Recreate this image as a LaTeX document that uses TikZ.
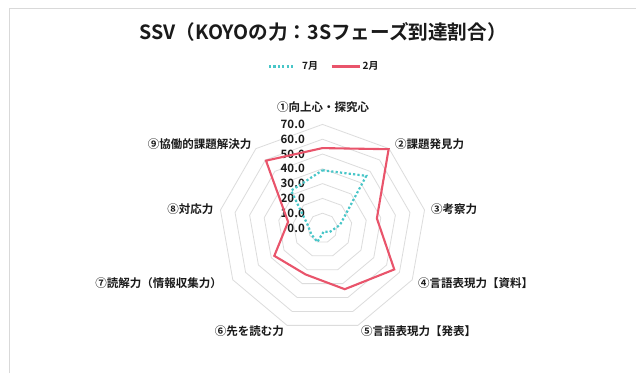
\documentclass[tikz,border=0pt]{standalone}
\usepackage{fontspec}
\setmainfont{Noto Sans CJK JP}[BoldFont={Noto Sans CJK JP Bold}]
\definecolor{redline}{HTML}{E9546B}
\definecolor{tealline}{HTML}{48C6C8}
\definecolor{gridgray}{HTML}{DCDCDC}
\definecolor{framegray}{HTML}{D9D9D9}
\definecolor{txt}{HTML}{1A1A1A}
\tikzset{
  gridpoly/.style={draw=gridgray, line width=0.8pt},
  julyline/.style={draw=tealline, line width=2.2pt, line cap=butt, dash pattern=on 2.2pt off 2.2pt},
  febline/.style={draw=redline, line width=2.1pt, line join=miter},
  cat/.style={inner sep=0pt, font=\bfseries\fontsize{11.5}{12}\selectfont, text=txt},
  axlab/.style={inner sep=0pt, anchor=east, font=\bfseries\fontsize{11.5}{12}\selectfont, text=txt},
  legtxt/.style={inner sep=0pt, anchor=west, font=\bfseries\fontsize{10}{11}\selectfont, text=txt},
  titletxt/.style={inner sep=0pt, font=\bfseries\fontsize{19.6}{22}\selectfont, text=txt}
}
\begin{document}
\begin{tikzpicture}[x=1pt,y=-1pt]
\useasboundingbox (0,0) rectangle (636,373);
\fill[white] (0,0) rectangle (636,373);
\draw[framegray, line width=0.9pt] (9,373) -- (9,8.5) -- (636,8.5);
\def\cx{322.5}
\def\cy{228}
\def\sc{1.48}
% grid nonagons
\foreach \l in {10,20,...,70} {
  \draw[gridpoly] ({\cx},{\cy-\l*\sc})
    \foreach \k in {1,...,8} { -- ({\cx+\l*\sc*cos(90-40*\k)},{\cy-\l*\sc*sin(90-40*\k)}) } -- cycle;
}
% axis labels
\foreach \v [count=\i from 0] in {0.0,10.0,20.0,30.0,40.0,50.0,60.0,70.0} {
  \node[axlab] (ax\i) at (305,{\cy-\i*10*\sc}) {\v};
}
% data points
\foreach \v [count=\k from 0] in {39,46,12,5.5,2.5,10,8.7,10,33} {
  \coordinate (j\k) at ({\cx+\v*\sc*cos(90-40*\k)},{\cy-\v*\sc*sin(90-40*\k)});
}
\foreach \v [count=\k from 0] in {54,69.5,37.3,56,44,33.4,37.6,23.6,59.4} {
  \coordinate (f\k) at ({\cx+\v*\sc*cos(90-40*\k)},{\cy-\v*\sc*sin(90-40*\k)});
}
\draw[julyline] (j0) -- (j1) -- (j2) -- (j3) -- (j4) -- (j5) -- (j6) -- (j7) -- (j8) -- cycle;
\draw[febline] (f0) -- (f1) -- (f2) -- (f3) -- (f4) -- (f5) -- (f6) -- (f7) -- (f8) -- cycle;
% category labels
\node[cat] (c1) at (323,107) {①向上心・探究心};
\node[cat, anchor=west] (c2) at (395,144) {②課題発見力};
\node[cat, anchor=west] (c3) at (431,209) {③考察力};
\node[cat, anchor=west] (c4) at (418,283) {④言語表現力【資料】};
\node[cat, anchor=west] (c5) at (361,331) {⑤言語表現力【発表】};
\node[cat, anchor=east] (c6) at (284,331) {⑥先を読む力};
\node[cat, anchor=east] (c7) at (222,283) {⑦読解力（情報収集力）};
\node[cat, anchor=east] (c8) at (213.5,209) {⑧対応力};
\node[cat, anchor=east] (c9) at (251.5,144) {⑨協働的課題解決力};
% title
\node[titletxt] (title) at (323,32) {SSV（KOYOの力：3Sフェーズ到達割合）};
% legend
\coordinate (l1a) at (269,66.5);
\coordinate (l1b) at (295,66.5);
\draw[julyline] (l1a) -- (l1b);
\node[legtxt] (l1t) at (302,66) {7月};
\coordinate (l2a) at (331.5,66.5);
\coordinate (l2b) at (360,66.5);
\draw[febline] (l2a) -- (l2b);
\node[legtxt] (l2t) at (362.5,66) {2月};
\end{tikzpicture}
\end{document}
